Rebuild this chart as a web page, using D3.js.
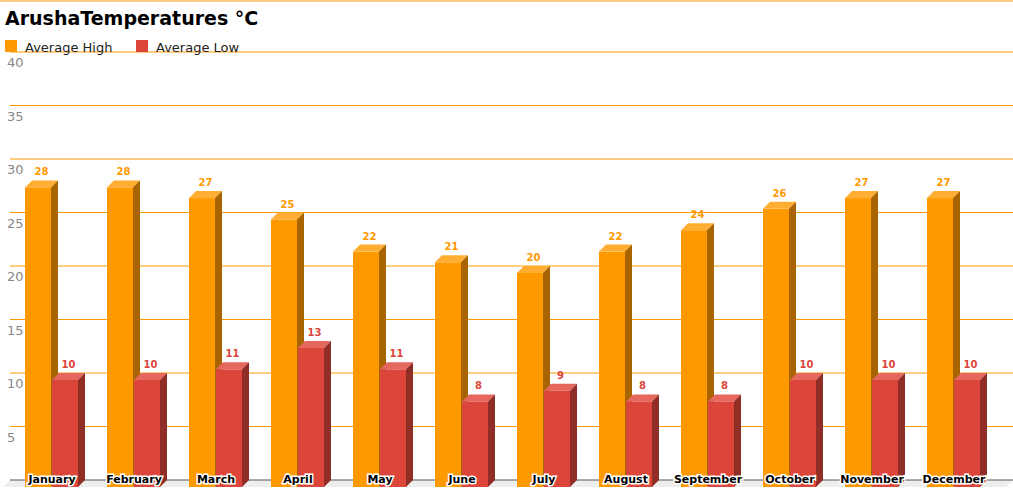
<!DOCTYPE html><html><head><script src="https://cdnjs.cloudflare.com/ajax/libs/d3/7.8.5/d3.min.js"></script>
<style>body{margin:0;background:#fff}text{font-family:Verdana,"DejaVu Sans",sans-serif}</style></head><body><svg id="c" width="1013" height="491"></svg><script>
const months=["January","February","March","April","May","June","July","August","September","October","November","December"];
const highs=[28,28,27,25,22,21,20,22,24,26,27,27];
const lows=[10,10,11,13,11,8,9,8,8,10,10,10];
const ticks=[5,10,15,20,25,30,35,40];
const svg=d3.select("#c");
const D=7;
const yB=d3.scaleLinear().domain([0,40]).range([480,52]);
const yF=v=>yB(v)+D;
const x=d3.scaleBand().domain(months).range([25,1009]).paddingInner(0).paddingOuter(0);
const bw=26;
svg.append("line").attr("x1",0).attr("x2",1013).attr("y1",1).attr("y2",1).attr("stroke","#f90");
svg.selectAll(".g").data(ticks).join("line").attr("x1",10).attr("x2",1013).attr("y1",d=>yB(d)).attr("y2",d=>yB(d)).attr("stroke","#f90");
svg.selectAll(".t").data(ticks).join("text").attr("x",7).attr("y",d=>yB(d)+15).attr("fill","#888").attr("font-size",13).text(d=>d);
svg.append("polygon").attr("points",`10,480 1013,480 1006,487 3,487`).attr("fill","#eee");
svg.append("line").attr("x1",10).attr("x2",1013).attr("y1",480).attr("y2",480).attr("stroke","#555");
function bar(x0,v,cf,ct,cs,lc){
 const t=yF(v),b=yF(0);
 svg.append("rect").attr("x",x0).attr("y",t).attr("width",bw).attr("height",b-t).attr("fill",cf);
 svg.append("polygon").attr("points",`${x0},${t} ${x0+D},${t-D} ${x0+bw+D},${t-D} ${x0+bw},${t}`).attr("fill",ct);
 svg.append("polygon").attr("points",`${x0+bw},${t} ${x0+bw+D},${t-D} ${x0+bw+D},${b-D} ${x0+bw},${b}`).attr("fill",cs);
 svg.append("text").attr("x",x0+bw/2+D/2).attr("y",t-12).attr("text-anchor","middle").attr("font-size",10).attr("font-weight","bold").attr("fill",lc).text(v);
}
months.forEach((m,i)=>{
 const x0=x(m);
 bar(x0,highs[i],"#f90","#ffad33","#a86400","#f90");
 bar(x0+bw+1,lows[i],"#dc463a","#e5675d","#902d26","#dc463a");
});
svg.selectAll(".m").data(months).join("text").attr("x",d=>x(d)+bw+1).attr("y",483).attr("text-anchor","middle").attr("font-size",11).attr("font-weight","bold").attr("fill","#000").attr("stroke","#fff").attr("stroke-width",3).attr("paint-order","stroke").text(d=>d);
svg.append("text").attr("x",5).attr("y",25).attr("font-size",19).attr("font-weight","bold").text("ArushaTemperatures °C");
const lg=[["Average High","#f90",5],["Average Low","#dc463a",136]];
lg.forEach(([n,c,lx])=>{svg.append("rect").attr("x",lx).attr("y",40).attr("width",12).attr("height",12).attr("fill",c);
svg.append("text").attr("x",lx+20).attr("y",52).attr("font-size",13).attr("fill","#222").text(n);});
</script></body></html>
